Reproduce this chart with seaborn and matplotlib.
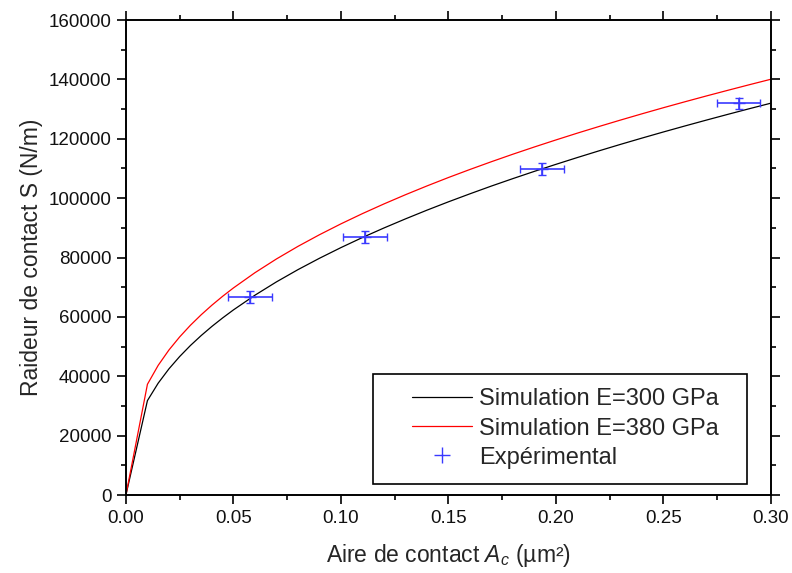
import pandas as pd
import numpy as np
import matplotlib
matplotlib.use('Agg')
import matplotlib.pyplot as plt
from matplotlib.patches import Rectangle
from matplotlib.lines import Line2D
from matplotlib.ticker import MultipleLocator, FormatStrFormatter
import seaborn as sns

# contact area (um^2) for the simulated curves
aire = [0.00, 0.01, 0.015, 0.02, 0.025, 0.03, 0.035, 0.04, 0.045, 0.05, 0.06, 0.07,
        0.08, 0.09, 0.10, 0.11, 0.12, 0.13, 0.14, 0.15, 0.16, 0.17, 0.18, 0.19,
        0.20, 0.21, 0.22, 0.23, 0.24, 0.25, 0.26, 0.27, 0.28, 0.29, 0.30]
# stiffness S (N/m), E = 300 GPa
s_300 = [0, 31800, 37680, 42500, 46660, 50370, 53720, 56810, 59670, 62360, 67310, 71800,
         75920, 79750, 83350, 86750, 89960, 93020, 95960, 98770, 101470, 104090, 106600, 109040,
         111400, 113700, 115940, 118120, 120240, 122310, 124330, 126310, 128250, 130150, 132010]
# stiffness S (N/m), E = 380 GPa
s_380 = [0, 37300, 43680, 48850, 53270, 57190, 60720, 63960, 66960, 69760, 74890, 79520,
         83760, 87680, 91350, 94800, 98060, 101160, 104120, 106960, 109670, 112290, 114820, 117260,
         119620, 121920, 124140, 126310, 128420, 130480, 132480, 134440, 136350, 138230, 140070]

# experimental points
exp_aire = [0.0577, 0.1112, 0.1934, 0.2849]
exp_s = [66800, 86900, 109900, 131900]
exp_xerr = [0.0102, 0.0101, 0.0101, 0.0101]
exp_yerr = [2000, 2000, 2000, 1900]

sns.set_style('ticks')
plt.rcParams['font.family'] = ['Liberation Sans', 'DejaVu Sans']
plt.rcParams['mathtext.fontset'] = 'custom'
plt.rcParams['mathtext.rm'] = 'Liberation Sans'
plt.rcParams['mathtext.it'] = 'Liberation Sans:italic'

df = pd.DataFrame({'aire': aire, 'E=300': s_300, 'E=380': s_380})

fig = plt.figure(figsize=(7.92, 5.73), dpi=100)
ax = fig.add_axes([0.159, 0.1361, 0.8145, 0.8289])

sns.lineplot(data=df, x='aire', y='E=300', color='black', lw=0.9, ax=ax)
sns.lineplot(data=df, x='aire', y='E=380', color='red', lw=0.9, ax=ax)
ax.errorbar(exp_aire, exp_s, xerr=exp_xerr, yerr=exp_yerr, fmt='+', color='#3a3aff',
            ms=8, mew=1, elinewidth=1.2, capsize=3, capthick=1.2)

ax.set_xlim(0, 0.30)
ax.set_ylim(0, 160000)
ax.xaxis.set_major_locator(MultipleLocator(0.05))
ax.xaxis.set_minor_locator(MultipleLocator(0.025))
ax.yaxis.set_major_locator(MultipleLocator(20000))
ax.yaxis.set_minor_locator(MultipleLocator(10000))
ax.xaxis.set_major_formatter(FormatStrFormatter('%.2f'))
ax.yaxis.set_major_formatter(FormatStrFormatter('%d'))

for sp in ax.spines.values():
    sp.set_visible(True)
    sp.set_linewidth(1.4)
    sp.set_color('black')
ax.tick_params(which='both', direction='out', top=True, right=True,
               color='black', width=1.2, labelsize=13.5, labelcolor='#111111')
ax.tick_params(which='major', length=6.5, pad=4)
ax.tick_params(which='minor', length=3.5)

ax.set_xlabel(r'Aire de contact $A_c$ (µm²)', fontsize=16.5, labelpad=11)
ax.set_ylabel('Raideur de contact S (N/m)', fontsize=16.5, labelpad=4)

# legend frame drawn as a separate box
ax.add_patch(Rectangle((0.3834, 0.0225), 0.5797, 0.2322, transform=ax.transAxes,
                       facecolor='white', edgecolor='black', lw=1.2, zorder=4))
handles = [Line2D([], [], color='black', lw=0.9),
           Line2D([], [], color='red', lw=0.9),
           Line2D([], [], color='#3a3aff', ls='none', marker='+', ms=11, mew=1)]
labels = ['Simulation E=300 GPa', 'Simulation E=380 GPa', 'Expérimental']
leg = ax.legend(handles, labels, loc='center left', bbox_to_anchor=(0.425, 0.14),
                frameon=False, fontsize=17, borderpad=0, handlelength=2.55,
                handletextpad=0.3, labelspacing=0.3)
leg.set_zorder(5)

fig.savefig('out.png', dpi=100)
